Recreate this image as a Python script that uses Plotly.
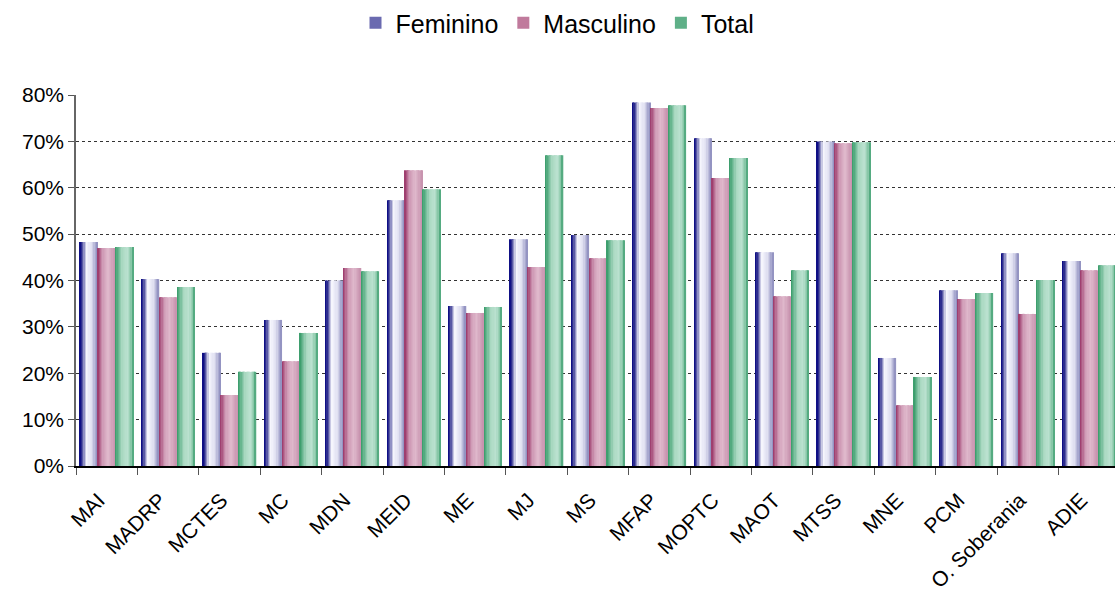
import plotly.graph_objects as go

categories = ["MAI", "MADRP", "MCTES", "MC", "MDN", "MEID", "ME", "MJ", "MS", "MFAP",
              "MOPTC", "MAOT", "MTSS", "MNE", "PCM", "O. Soberania", "ADIE"]
feminino = [48.3, 40.3, 24.4, 31.5, 40.0, 57.3, 34.5, 48.9, 49.8, 78.4,
            70.7, 46.1, 70.0, 23.3, 37.9, 45.9, 44.2]
masculino = [47.0, 36.4, 15.3, 22.6, 42.7, 63.8, 33.0, 42.9, 44.8, 77.2,
             62.1, 36.6, 69.6, 13.1, 36.0, 32.8, 42.2]
total = [47.2, 38.6, 20.3, 28.7, 42.0, 59.7, 34.3, 67.0, 48.7, 77.8,
         66.4, 42.2, 69.8, 19.2, 37.3, 40.1, 43.3]
series_names = ["Feminino", "Masculino", "Total"]
y_ticks = [0, 10, 20, 30, 40, 50, 60, 70, 80]
y_tick_labels = ["0%", "10%", "20%", "30%", "40%", "50%", "60%", "70%", "80%"]

series = [feminino, masculino, total]

gradients = [
    [(0.0, "#000080"), (0.14, "#3a3a94"), (0.38, "#f6f6fd"), (0.7, "#dedef0"), (1.0, "#8a8abc")],
    [(0.0, "#993366"), (0.3, "#cf9ab5"), (0.6, "#dfb9cc"), (1.0, "#c690ac")],
    [(0.0, "#339966"), (0.4, "#aad9c2"), (0.7, "#bbe2d0"), (0.9, "#86c6a6"), (1.0, "#3a9c6c")],
]
legend_colors = ["#6a6ab0", "#c07a9c", "#5fb088"]


def hex2rgb(h):
    h = h.lstrip("#")
    return tuple(int(h[i:i + 2], 16) for i in (0, 2, 4))


def grad_color(stops, t):
    for (t0, c0), (t1, c1) in zip(stops[:-1], stops[1:]):
        if t0 <= t <= t1:
            f = 0 if t1 == t0 else (t - t0) / (t1 - t0)
            a, b = hex2rgb(c0), hex2rgb(c1)
            r = [round(a[i] + (b[i] - a[i]) * f) for i in range(3)]
            return "rgb(%d,%d,%d)" % tuple(r)
    return stops[-1][1]


bar_w = 0.29
starts = [-0.435, -0.145, 0.145]
N = 14

fig = go.Figure()
for s, (name, vals) in enumerate(zip(series_names, series)):
    sw = bar_w / N
    for k in range(N):
        t = (k + 0.5) / N
        fig.add_trace(go.Bar(
            x=categories, y=vals, name=name,
            width=sw * 1.02, offset=starts[s] + k * sw,
            marker=dict(color=grad_color(gradients[s], t), line=dict(width=0)),
            showlegend=False, legendgroup=name, hoverinfo="skip" if k else None,
        ))
    # legend entry
    fig.add_trace(go.Bar(
        x=[categories[0]], y=[None], name=name, legendgroup=name,
        marker=dict(color=legend_colors[s], line=dict(width=0)),
        showlegend=True,
    ))

fig.update_layout(
    barmode="overlay",
    width=1115, height=592,
    margin=dict(l=76, r=0, t=95, b=126),
    paper_bgcolor="white", plot_bgcolor="white",
    font=dict(family="Liberation Sans, Arial, sans-serif", color="black", size=21),
    legend=dict(orientation="h", xref="container", yref="container",
                x=0.5, xanchor="center", y=1.0, yanchor="top",
                font=dict(size=25), itemwidth=30, traceorder="normal"),
    xaxis=dict(
        type="category", range=[-0.5, 16.42], automargin=False,
        tickangle=-45, tickson="boundaries", ticks="outside", ticklen=7,
        tickcolor="#555", showline=True, linecolor="black", linewidth=1.5,
        showgrid=False, tickfont=dict(size=21),
        ticklabelstandoff=12, ticklabelshift=-8,
    ),
    yaxis=dict(
        range=[0, 80], tickvals=y_ticks, ticktext=y_tick_labels, automargin=False,
        showgrid=True, gridcolor="#333", griddash="dot", gridwidth=1,
        ticks="outside", ticklen=6, tickcolor="#555",
        showline=True, linecolor="#666", linewidth=1.5,
        zeroline=False, tickfont=dict(size=21),
    ),
)

fig.write_html("out.html", config={"displayModeBar": False},
               post_script="document.body.style.margin='0';")
